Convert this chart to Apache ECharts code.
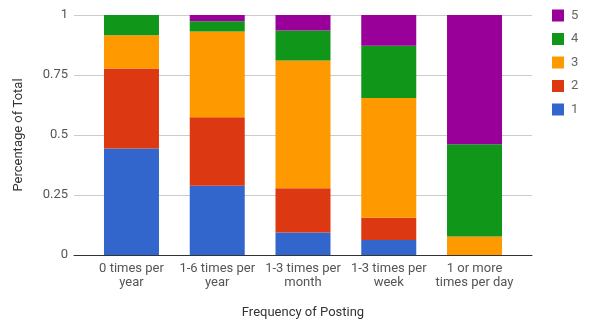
<!DOCTYPE html>
<html>
<head>
<meta charset="utf-8">
<script src="https://cdn.jsdelivr.net/npm/echarts@6/dist/echarts.min.js"></script>
<style>
  html, body { margin: 0; padding: 0; background: #fff; }
  #chart { width: 592px; height: 321px; }
</style>
</head>
<body>
<div id="chart"></div>
<script>
// Posting frequency categories
const categories = [
  '0 times per\nyear',
  '1-6 times per\nyear',
  '1-3 times per\nmonth',
  '1-3 times per\nweek',
  '1 or more\ntimes per day'
];

// Share of respondents for each rating, per category
const rating1 = [0.444, 0.289, 0.094, 0.063, 0];
const rating2 = [0.333, 0.285, 0.184, 0.092, 0];
const rating3 = [0.139, 0.357, 0.532, 0.499, 0.077];
const rating4 = [0.084, 0.043, 0.125, 0.218, 0.384];
const rating5 = [0, 0.026, 0.065, 0.128, 0.539];

const yTicks = [0, 0.25, 0.5, 0.75, 1];
const seriesNames = ['1', '2', '3', '4', '5'];
const seriesData = [rating1, rating2, rating3, rating4, rating5];
const colors = ['#3366cc', '#dc3912', '#ff9900', '#109618', '#990099'];

const FONT = 'Roboto, "Noto Sans", Arial, sans-serif';
const chart = echarts.init(document.getElementById('chart'), null, { renderer: 'canvas' });

const option = {
  animation: false,
  textStyle: { fontFamily: FONT },
  color: colors,
  grid: [
    // frame: gridlines, baseline and axis titles
    { left: 74, right: 60, top: 15, bottom: 66, containLabel: false, outerBoundsMode: 'none' },
    // bars
    { left: 88.6, right: 74.6, top: 15, bottom: 66, containLabel: false, outerBoundsMode: 'none' }
  ],
  legend: {
    orient: 'vertical',
    left: 552,
    top: 9,
    padding: 0,
    itemWidth: 12,
    itemHeight: 12,
    itemGap: 10.5,
    icon: 'rect',
    data: ['5', '4', '3', '2', '1'],
    textStyle: { color: '#666', fontSize: 13, fontFamily: FONT, padding: [0, 0, 0, 2] }
  },
  xAxis: [
    {
      type: 'value', gridIndex: 0, min: 0, max: 1,
      name: 'Frequency of Posting', nameLocation: 'middle', nameGap: 51,
      nameTextStyle: { color: '#333', fontSize: 13, fontFamily: FONT },
      axisLine: { show: true, lineStyle: { color: '#333', width: 1 } },
      axisTick: { show: false }, axisLabel: { show: false }, splitLine: { show: false }
    },
    {
      type: 'category', gridIndex: 1, data: categories,
      axisLine: { show: false }, axisTick: { show: false },
      axisLabel: { color: '#555', fontSize: 13, lineHeight: 14, margin: 7, fontFamily: FONT, interval: 0 }
    }
  ],
  yAxis: [
    {
      type: 'value', gridIndex: 0, min: 0, max: 1, interval: 0.25,
      name: 'Percentage of Total', nameLocation: 'middle', nameGap: 49,
      nameTextStyle: { color: '#333', fontSize: 13, fontFamily: FONT },
      axisLine: { show: false }, axisTick: { show: false },
      axisLabel: {
        color: '#555', fontSize: 13, margin: 6, fontFamily: FONT,
        formatter: v => yTicks.includes(v) ? String(v) : ''
      },
      splitLine: { lineStyle: { color: '#cccccc', width: 1 } }
    },
    {
      type: 'value', gridIndex: 1, min: 0, max: 1, interval: 0.25,
      axisLine: { show: false }, axisTick: { show: false },
      axisLabel: { show: false }, splitLine: { show: false }
    }
  ],
  series: seriesNames.map((name, i) => ({
    name,
    type: 'bar',
    stack: 'total',
    xAxisIndex: 1,
    yAxisIndex: 1,
    barWidth: 55,
    data: seriesData[i],
    itemStyle: { color: colors[i] }
  }))
};

chart.setOption(option);
</script>
</body>
</html>
